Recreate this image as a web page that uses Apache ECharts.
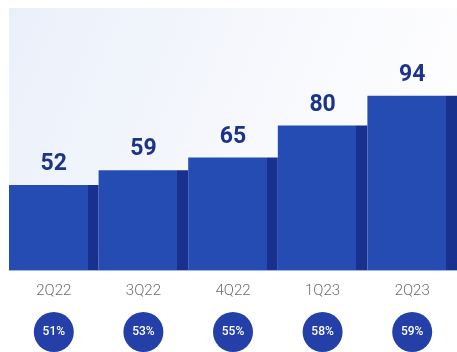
<!DOCTYPE html>
<html><head><meta charset="utf-8">
<script src="https://cdn.jsdelivr.net/npm/echarts@6/dist/echarts.min.js"></script>
<style>html,body{margin:0;padding:0;background:#fff}#c{width:457px;height:352px}</style>
</head><body><div id="c"></div>
<script>
const categories = ['2Q22','3Q22','4Q22','1Q23','2Q23'];
const values = [52, 59, 65, 80, 94];
const percents = [51, 53, 55, 58, 59];

const MAIN = '#244cb3';
const DARK = '#18318f';
const chart = echarts.init(document.getElementById('c'), null, {renderer:'canvas'});
chart.setOption({
  animation: false,
  backgroundColor: '#ffffff',
  graphic: [{
    type: 'rect', z: -1, silent: true,
    shape: {x: 9, y: 8, width: 448, height: 262},
    style: {fill: {type:'linear', x:0, y:0, x2:1, y2:0.7, colorStops:[
      {offset:0, color:'#eaf0fa'}, {offset:0.6, color:'#f8f9fd'}, {offset:1, color:'#ffffff'}]}}
  }],
  grid: [
    {left: 9, right: -2, top: 83, height: 187},
    {left: 9, right: -2, top: 312, height: 40}
  ],
  xAxis: [
    {gridIndex:0, type:'category', data: categories,
     axisLine:{show:true, lineStyle:{color:'#9fb5e6', width:1}},
     axisTick:{show:false},
     axisLabel:{margin:14, color:'#6e6e6e', fontSize:15, fontFamily:'Roboto', fontWeight:300}},
    {gridIndex:1, type:'category', data: categories, show:false}
  ],
  yAxis: [
    {gridIndex:0, type:'value', min:12, max:100, show:false, splitLine:{show:false}},
    {gridIndex:1, type:'value', min:0, max:1, show:false, splitLine:{show:false}}
  ],
  series: [
    {type:'bar', xAxisIndex:0, yAxisIndex:0, data: values, barCategoryGap:'0%', barWidth:'100%',
     itemStyle:{color:{type:'linear', x:0, y:0, x2:1, y2:0, colorStops:[
       {offset:0, color:MAIN}, {offset:0.878, color:MAIN}, {offset:0.878, color:DARK}, {offset:1, color:DARK}]}},
     label:{show:true, position:'top', distance:9, color:'#1b3489', fontSize:23, fontWeight:'bold', fontFamily:'Roboto'}},
    {type:'scatter', xAxisIndex:1, yAxisIndex:1, symbol:'circle', symbolSize:40,
     data: categories.map((c,i)=>({value:[c, 0.5, percents[i]]})),
     itemStyle:{color:'#2440a8', opacity:1},
     label:{show:true, position:'inside', formatter: p => p.value[2] + '%', color:'#fff', fontSize:12, fontWeight:500, fontFamily:'Roboto'}}
  ]
});
</script></body></html>
